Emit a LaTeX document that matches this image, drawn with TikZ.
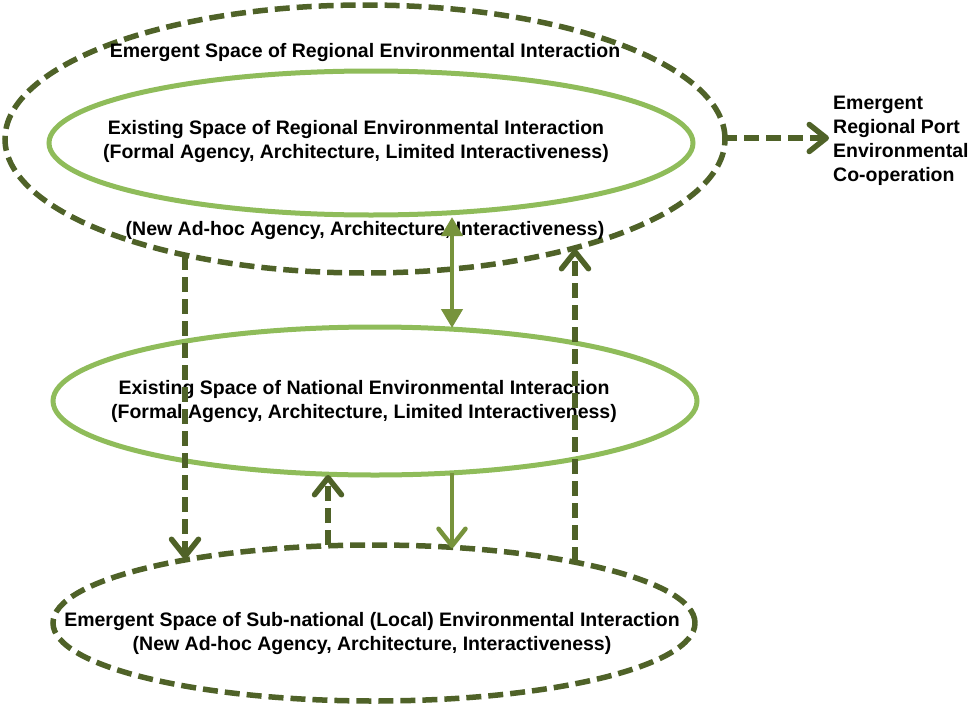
\documentclass[tikz,border=0pt]{standalone}
\usepackage{fontspec}
\setmainfont{Liberation Sans}
\usetikzlibrary{arrows.meta, shapes.geometric}
\definecolor{olivedark}{RGB}{79,98,40}
\definecolor{olivelight}{RGB}{143,188,90}
\definecolor{olivemid}{RGB}{119,147,60}

\begin{document}
\begin{tikzpicture}[x=1pt, y=-1pt,
    every node/.style={font=\fontsize{19.5}{24}\selectfont\bfseries, inner sep=0pt, align=center},
    emergent/.style={ellipse, draw=olivedark, line width=5.5pt, dash pattern=on 15pt off 7pt},
    existing/.style={ellipse, draw=olivelight, line width=5pt},
    barb/.style={-{Straight Barb[length=17pt, width=27pt, round]}},
    dashlink/.style={olivedark, line width=5.5pt, dash pattern=on 15pt off 7pt, barb},
    solidlink/.style={olivemid, line width=4.5pt}]
    \useasboundingbox (0,0) rectangle (971,712);
    % Ellipses
    \node[emergent, minimum width=720pt, minimum height=268pt] (regout) at (365,139) {};
    \node[existing, minimum width=644pt, minimum height=144pt] (regin) at (371,143) {};
    \node[existing, minimum width=644pt, minimum height=148pt] (nat) at (375,401) {};
    \node[emergent, minimum width=642pt, minimum height=156pt] (sub) at (374,623) {};
    % Texts
    \node (tregout) at (365,52) {Emergent Space of Regional Environmental Interaction};
    \node (tregin) at (356,141) {Existing Space of Regional Environmental Interaction\\
        (Formal Agency, Architecture, Limited Interactiveness)};
    \node (tregnew) at (365,230) {(New Ad-hoc Agency, Architecture, Interactiveness)};
    \node (tnat) at (364,401) {Existing Space of National Environmental Interaction\\
        (Formal Agency, Architecture, Limited Interactiveness)};
    \node (tsub) at (372,633) {Emergent Space of Sub-national (Local) Environmental Interaction\\
        (New Ad-hoc Agency, Architecture, Interactiveness)};
    \node[anchor=west, align=left] (port) at (833,141) {Emergent\\Regional Port\\Environmental\\Co-operation};
    % Ends of the connectors on the ellipses
    \coordinate (reginS) at (452,217);
    \coordinate (natN) at (452,328);
    \coordinate (natS) at (452,473);
    \coordinate (subN) at (452,548);
    \coordinate (regoutA) at (185,255);
    \coordinate (subA) at (185,559);
    \coordinate (subB) at (328,545);
    \coordinate (natB) at (328,475);
    \coordinate (subC) at (575,562);
    \coordinate (regoutC) at (575,249);
    \coordinate (regoutE) at (722,138);
    \coordinate (portW) at (829,138);
    % Connectors
    \draw[solidlink, {Triangle[length=19pt, width=21pt]}-{Triangle[length=19pt, width=21pt]}] (reginS) -- (natN);
    \draw[solidlink, barb] (natS) -- (subN);
    \draw[dashlink] (regoutA) -- (subA);
    \draw[dashlink] (subB) -- (natB);
    \draw[dashlink] (subC) -- (regoutC);
    \draw[dashlink] (regoutE) -- (portW);
\end{tikzpicture}
\end{document}
